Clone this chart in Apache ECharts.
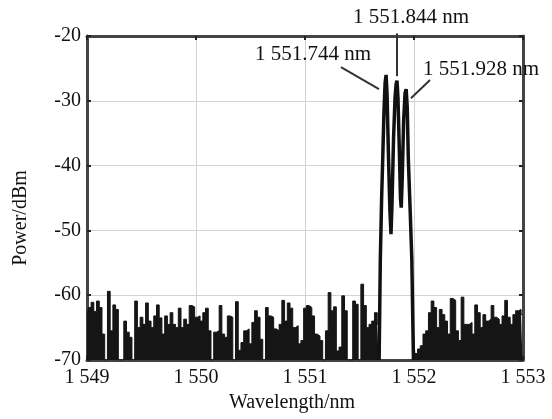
<!DOCTYPE html>
<html><head><meta charset="utf-8">
<script src="https://cdn.jsdelivr.net/npm/echarts@6/dist/echarts.min.js"></script>
<style>html,body{margin:0;padding:0;background:#fff}#c{width:552px;height:419px}</style>
</head><body><div id="c"></div>
<script>
const xTicks = [1549, 1550, 1551, 1552, 1553];
const yTicks = [-70, -60, -50, -40, -30, -20];
const noiseLeftStart = 1549.0;
const noiseRightStart = 1551.995;
const noiseStep = 0.025;
const noiseLeft = [
  -63.2,-61.9,-61.1,-62.5,-60.9,-61.9,-66,-70,-59.4,-65.5,
  -61.5,-62.2,-70,-70,-64,-65.7,-66.5,-70,-60.9,-65,
  -63.4,-64.5,-61.2,-64,-65,-63.2,-61.5,-63.5,-66,-63.2,
  -64.5,-62.7,-64.5,-65,-62,-65,-63.7,-64.5,-61.6,-61.8,
  -63.4,-63.2,-64,-62.7,-62,-65.5,-70,-65.7,-65.5,-61.6,
  -66,-66.5,-63.2,-63.4,-70,-61,-68.5,-67.3,-65.5,-65.2,
  -67.5,-64.2,-62.4,-63.4,-66.8,-70,-61.9,-63.2,-63.4,-65.2,
  -65.5,-64.5,-60.8,-64,-61.2,-62,-65,-64.7,-67.5,-67,
  -62,-61.6,-61.9,-63.2,-66,-66.3,-67,-70,-65.5,-59.6,
  -62.4,-61.8,-68.6,-68,-60.1,-62.4,-70,-70,-60.9,-61.4,
  -70,-58.3,-61.6,-65,-64.5,-64,-62.7,-64.5
];
const noiseRight = [
  -66,-69,-68.3,-67.8,-66,-65.5,-62.7,-60.9,-61.9,-65,
  -62.2,-63,-64,-66,-60.5,-60.8,-65.5,-67,-60.3,-64.5,
  -64.5,-64.2,-66,-61.5,-62.7,-65,-63,-64,-63.7,-61.6,
  -63.4,-63.7,-64.5,-63.2,-60.8,-63.4,-64.5,-63,-62.4,-62.2,
  -63
];
const peakWl = [1551.680,1551.691,1551.703,1551.713,1551.725,1551.735,1551.744,1551.753,1551.765,1551.779,
  1551.789,1551.798,1551.812,1551.826,1551.836,1551.844,1551.853,1551.866,1551.876,1551.883,
  1551.892,1551.905,1551.918,1551.928,1551.938,1551.948,1551.965,1551.980,1551.995];
const peakDbm = [-70,-54.5,-45,-39,-31.4,-27.2,-26.0,-29,-38,-47,
  -50.6,-46,-36,-29.5,-27.4,-26.9,-29.5,-38,-45,-46.5,
  -42,-33,-28.8,-28.2,-31,-39,-47,-54.5,-70];
const peakLabels = ['1 551.744 nm', '1 551.844 nm', '1 551.928 nm'];
const labelAt = [[1551.073, -22.8], [1551.972, -17.2], [1552.615, -25.1]];
const leaders = [
  [[1551.33, -24.8], [1551.679, -28.2]],
  [[1551.844, -19.6], [1551.844, -26.2]],
  [[1552.147, -26.8], [1551.972, -29.6]]
];

const FONT = 'Liberation Serif';
const fmtX = v => String(v).replace(/^(\d)(\d{3})$/, '$1 $2');
const toPairs = (start, vals) => vals.map((v, i) => [+(start + i * noiseStep).toFixed(3), v]);

const chart = echarts.init(document.getElementById('c'), null, {renderer: 'canvas'});
const baseX = {type: 'value', min: xTicks[0], max: xTicks[xTicks.length - 1], interval: 1};
const baseY = {type: 'value', min: yTicks[0], max: yTicks[yTicks.length - 1], interval: 10};
const tickStyle = {show: true, inside: true, length: 4, lineStyle: {color: '#222', width: 2}};
const frameLine = {show: true, lineStyle: {color: '#444', width: 3}};
chart.setOption({
  animation: false,
  backgroundColor: '#fff',
  grid: {left: 87, right: 29, top: 36, bottom: 59},
  xAxis: [
    Object.assign({}, baseX, {
      position: 'bottom',
      name: 'Wavelength/nm', nameLocation: 'middle', nameGap: 28,
      nameTextStyle: {fontFamily: FONT, fontSize: 20, color: '#111', padding: [0, 26, 0, 0]},
      axisLine: frameLine, axisTick: tickStyle,
      axisLabel: {formatter: fmtX, fontFamily: FONT, fontSize: 20, color: '#111', margin: 8},
      splitLine: {show: true, lineStyle: {color: '#d2d2d2', width: 1}}
    }),
    Object.assign({}, baseX, {
      position: 'top', axisLine: frameLine, axisTick: tickStyle,
      axisLabel: {show: false}, splitLine: {show: false}
    })
  ],
  yAxis: [
    Object.assign({}, baseY, {
      position: 'left',
      name: 'Power/dBm', nameLocation: 'middle', nameGap: 56, nameRotate: 90,
      nameTextStyle: {fontFamily: FONT, fontSize: 20, color: '#111', padding: [0, 40, 0, 0]},
      axisLine: frameLine, axisTick: tickStyle,
      axisLabel: {fontFamily: FONT, fontSize: 20, color: '#111', margin: 6},
      splitLine: {show: true, lineStyle: {color: '#d2d2d2', width: 1}}
    }),
    Object.assign({}, baseY, {
      position: 'right', axisLine: frameLine, axisTick: tickStyle,
      axisLabel: {show: false}, splitLine: {show: false}
    })
  ],
  series: [
    {
      type: 'line', data: toPairs(noiseLeftStart, noiseLeft), symbol: 'none', step: 'middle',
      lineStyle: {color: '#151515', width: 1},
      areaStyle: {color: '#151515', opacity: 1, origin: 'start'}
    },
    {
      type: 'line', data: toPairs(noiseRightStart, noiseRight), symbol: 'none', step: 'middle',
      lineStyle: {color: '#151515', width: 1},
      areaStyle: {color: '#151515', opacity: 1, origin: 'start'}
    },
    {
      type: 'line', data: peakWl.map((w, i) => [w, peakDbm[i]]), symbol: 'none',
      lineStyle: {color: '#111', width: 3.5}, z: 3
    }
  ]
});

const px = c => chart.convertToPixel({xAxisIndex: 0, yAxisIndex: 0}, c);
const graphics = [];
leaders.forEach(l => {
  const a = px(l[0]), b = px(l[1]);
  graphics.push({type: 'line', shape: {x1: a[0], y1: a[1], x2: b[0], y2: b[1]},
    style: {stroke: '#333', lineWidth: 2}, z: 10});
});
labelAt.forEach((c, i) => {
  const p = px(c);
  graphics.push({type: 'text', x: p[0], y: p[1], z: 10,
    style: {text: peakLabels[i], fontFamily: FONT, fontSize: 21, fill: '#111', align: 'center', verticalAlign: 'middle'}});
});
chart.setOption({graphic: graphics});
</script>
</body></html>
